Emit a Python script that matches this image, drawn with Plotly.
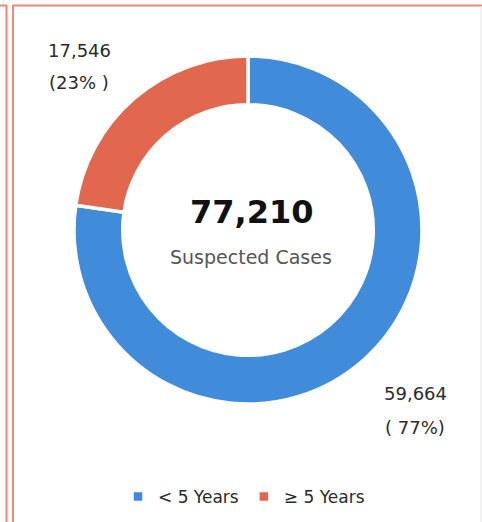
import plotly.graph_objects as go

labels = ["< 5 Years", "\u2265 5 Years"]
values = [59664, 17546]
colors = ["#418BDB", "#E2674F"]
center_label = "Suspected Cases"

total = sum(values)
W, H = 482, 522
FONT = "'DejaVu Sans', sans-serif"


def px_x(x):
    return x / W


def px_y(y):
    return 1 - y / H


fig = go.Figure()
fig.add_pie(
    labels=labels,
    values=values,
    hole=0.72,
    sort=False,
    direction="clockwise",
    rotation=0,
    marker=dict(colors=colors, line=dict(color="white", width=3.5)),
    textinfo="none",
    hoverinfo="label+value+percent",
    domain=dict(x=[px_x(248 - 174), px_x(248 + 174)],
                y=[px_y(230 + 174), px_y(230 - 174)]),
)

# slice labels: value line and percent line
label_pos = [(415, 393, 427), (79, 50, 82)]
for (x, y1, y2), v in zip(label_pos, values):
    pct = round(100 * v / total)
    pct_txt = f"( {pct}%)" if x > 200 else f"({pct}% )"
    for y, txt in [(y1, f"{v:,}"), (y2, pct_txt)]:
        fig.add_annotation(
            xref="paper", yref="paper", x=px_x(x), y=px_y(y),
            text=txt, showarrow=False, xanchor="center", yanchor="middle",
            font=dict(family=FONT, size=18, color="#2b2b2b"),
        )

# centre text
fig.add_annotation(
    xref="paper", yref="paper", x=px_x(251), y=px_y(212),
    text=f"<b>{total:,}</b>", showarrow=False,
    font=dict(family=FONT, size=32, color="#111111"),
)
fig.add_annotation(
    xref="paper", yref="paper", x=px_x(251), y=px_y(257),
    text=center_label, showarrow=False,
    font=dict(family=FONT, size=19, color="#555555"),
)

# panel borders
border = "#F08878"
fig.add_shape(type="line", xref="paper", yref="paper",
              x0=0, x1=px_x(7), y0=px_y(5.5), y1=px_y(5.5),
              line=dict(color=border, width=2))
fig.add_shape(type="line", xref="paper", yref="paper",
              x0=px_x(6.5), x1=px_x(6.5), y0=px_y(5), y1=0,
              line=dict(color=border, width=2))
fig.add_shape(type="line", xref="paper", yref="paper",
              x0=px_x(13), x1=1, y0=px_y(5.5), y1=px_y(5.5),
              line=dict(color=border, width=2))
fig.add_shape(type="line", xref="paper", yref="paper",
              x0=px_x(13), x1=px_x(13), y0=px_y(5), y1=0,
              line=dict(color=border, width=2))
fig.add_shape(type="line", xref="paper", yref="paper",
              x0=px_x(481), x1=px_x(481), y0=px_y(6), y1=0,
              line=dict(color="#E6E6E6", width=1))

fig.update_layout(
    width=W, height=H,
    margin=dict(l=0, r=0, t=0, b=0),
    paper_bgcolor="white",
    plot_bgcolor="white",
    font=dict(family=FONT, color="#333333"),
    showlegend=True,
    legend=dict(
        orientation="h", x=px_x(244), y=px_y(497),
        xanchor="center", yanchor="middle",
        font=dict(family=FONT, size=17, color="#2b2b2b"),
        itemwidth=30, traceorder="normal",
    ),
)

fig.write_html(
    "out.html",
    config={"displayModeBar": False},
    post_script="document.body.style.margin='0';document.body.style.overflow='hidden';",
)
